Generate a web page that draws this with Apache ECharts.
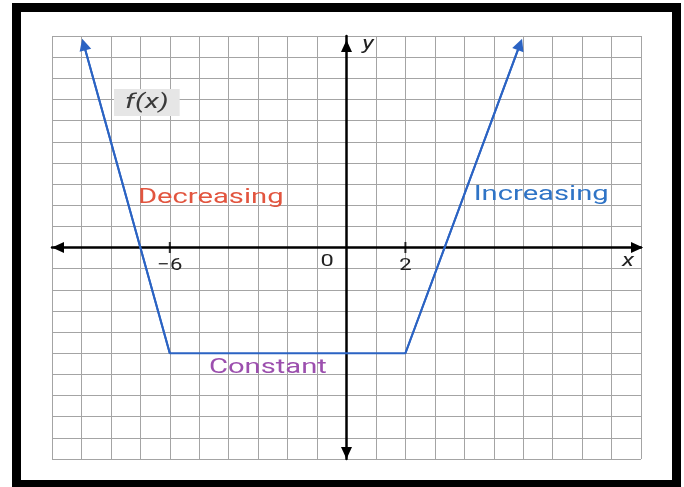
<!DOCTYPE html>
<html><head><meta charset="utf-8">
<script src="https://cdn.jsdelivr.net/npm/echarts@6/dist/echarts.min.js"></script>
<style>html,body{margin:0;padding:0;background:#fff}#c{width:684px;height:487px}</style>
</head><body><div id="c"></div>
<script>
// ---- data ----
const xMin = -10, xMax = 10;
const yMin = -10, yMax = 10;
const fxX = [-8.92, -6, 2, 5.89];
const fxY = [9.6, -5, -5, 9.6];
const tickXs = [-6, 2];
const tickLabels = ['\u22126', '2'];
const labelTexts = ['f(x)', 'Decreasing', 'Increasing', 'Constant', '0', 'x', 'y'];
const labelXs = [-6.78, -4.61, 6.61, -2.67, -0.66, 9.56, 0.73];
const labelYs = [6.85, 2.36, 2.5, -5.67, -0.66, -0.66, 9.6];

// ---- build ----
const fxPoints = fxX.map((x, i) => [x, fxY[i]]);
const arrowSegs = [
  { coords: [fxPoints[1], fxPoints[0]] },
  { coords: [fxPoints[2], fxPoints[3]] }
];
const tickPts = tickXs.map(x => [x, 0]);
const blue = '#2b63c3';

const chart = echarts.init(document.getElementById('c'), null, { renderer: 'canvas' });
chart.setOption({
  animation: false,
  backgroundColor: '#fff',
  grid: { left: 52, top: 36, width: 589, height: 423 },
  xAxis: {
    type: 'value', min: xMin, max: xMax, interval: 1,
    axisLine: { onZero: true, symbol: ['triangle', 'triangle'], symbolSize: [11, 12], symbolOffset: [6, -4],
      lineStyle: { color: '#000', width: 2.5 } },
    axisTick: { show: false },
    axisLabel: { show: false },
    splitLine: { show: true, lineStyle: { color: '#a4a4a4', width: 1 } }
  },
  yAxis: {
    type: 'value', min: yMin, max: yMax, interval: 1,
    axisLine: { onZero: true, symbol: ['triangle', 'triangle'], symbolSize: [11, 12], symbolOffset: [6, -10],
      lineStyle: { color: '#000', width: 2.5 } },
    axisTick: { show: false },
    axisLabel: { show: false },
    splitLine: { show: true, lineStyle: { color: '#a4a4a4', width: 1 } }
  },
  series: [
    { type: 'line', data: fxPoints, symbol: 'none', z: 5,
      lineStyle: { color: blue, width: 2 } },
    { type: 'lines', coordinateSystem: 'cartesian2d', data: arrowSegs, z: 5,
      symbol: ['none', 'triangle'], symbolSize: [10, 12],
      lineStyle: { color: blue, width: 2, opacity: 1 } },
    { type: 'scatter', data: tickPts, symbol: 'rect', symbolSize: [2, 11], z: 4,
      itemStyle: { color: '#000' } }
  ]
});

const styles = [
  { font: 'italic 21px Roboto', fill: '#3a3a3a', backgroundColor: '#e6e6e6', padding: [3, 8, 3, 8] },
  { font: '21px Roboto', fill: '#e2553f' },
  { font: '21px Roboto', fill: '#2f74c6' },
  { font: '21px Roboto', fill: '#9c4fae' },
  { font: '17px Roboto', fill: '#222' },
  { font: 'italic 18px Roboto', fill: '#222' },
  { font: 'italic 18px Roboto', fill: '#222' }
];
const toPx = (x, y) => chart.convertToPixel({ xAxisIndex: 0, yAxisIndex: 0 }, [x, y]);
const gfx = labelTexts.map((t, i) => {
  const p = toPx(labelXs[i], labelYs[i]);
  return {
    type: 'text', x: p[0], y: p[1], scaleX: 1.39, z: 10,
    style: Object.assign({ text: t, align: 'center', verticalAlign: 'middle' }, styles[i])
  };
});
tickXs.forEach((v, i) => {
  const p = toPx(v, 0);
  gfx.push({
    type: 'text', x: p[0], y: p[1] + 10, scaleX: 1.3, z: 10,
    style: { text: tickLabels[i], font: '17px Roboto', fill: '#222', align: 'center', verticalAlign: 'top' }
  });
});
gfx.push({
  type: 'rect', z: 20, silent: true,
  shape: { x: 16.5, y: 7.5, width: 660, height: 477 },
  style: { fill: 'none', stroke: '#000', lineWidth: 9 }
});
chart.setOption({ graphic: gfx });
</script>
</body></html>
